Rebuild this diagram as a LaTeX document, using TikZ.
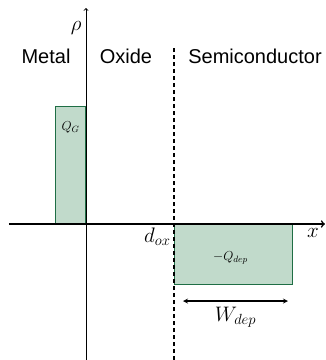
\RequirePackage{fix-cm}
\documentclass[tikz,border=0pt]{standalone}
\usepackage{fontspec}
\usepackage{tikz}
\usetikzlibrary{arrows,positioning,calc}
\newfontfamily\regionfont{Liberation Sans}
\definecolor{oxide_green}{HTML}{1F6E45}
\definecolor{charge_fill}{HTML}{C1DACB}
\tikzset{chargebox/.style={rectangle, inner sep=0pt, draw=oxide_green, fill=charge_fill, line width=1pt}}
\tikzset{chargelabel/.style={font=\fontsize{13}{15}\selectfont}}
\tikzset{axis/.style={->, >=to}}
\tikzset{region/.style={font=\regionfont\fontsize{20}{24}\selectfont}}
\tikzset{biglabel/.style={font=\fontsize{21}{25}\selectfont}}
\tikzset{dimarrow/.style={line width=1.2pt, <->, >=stealth}}

\begin{document}
\begin{tikzpicture}[x=1pt, y=1pt, node distance=4pt]
  \useasboundingbox (-86,-136) rectangle (240,224);

  \coordinate (origin) at (0,0);
  \coordinate (x-start) at (-77,0);
  \coordinate (x-end) at (239,0);
  \coordinate (rho-start) at (0,-136);
  \coordinate (rho-end) at (0,216);
  \coordinate (dox) at (88,0);
  \coordinate (dox-top) at (88,176);
  \coordinate (dox-bottom) at (88,-136);

  \node[chargebox, minimum width=30pt, minimum height=117pt, anchor=south east] (QG) at (origin) {};
  \node[chargelabel, below=12pt of QG.north] (QG-label) {$Q_G$};
  \node[chargebox, minimum width=118pt, minimum height=60pt, anchor=north west] (Qdep) at (dox) {};
  \node[chargelabel, xshift=-3pt, yshift=-3pt] (Qdep-label) at (Qdep.center) {$-Q_{dep}$};

  \draw[axis, line width=1.6pt] (x-start) -- (x-end);
  \draw[axis, line width=0.9pt] (rho-start) -- (rho-end);
  \draw[line width=1.6pt, dash pattern=on 4pt off 3pt] (dox-bottom) -- (dox-top);

  \node[biglabel, anchor=east] (rho) at (-1,196) {$\rho$};
  \node[biglabel, anchor=north] (x-label) at (227,-1) {$x$};
  \node[biglabel, anchor=north east] (dox-label) at (dox) {$d_{ox}$};

  \node[region] (metal) at (-40,168) {Metal};
  \node[region] (oxide) at (40,168) {Oxide};
  \node[region] (semi) at (169,168) {Semiconductor};

  \coordinate (W-left) at (97,-77);
  \coordinate (W-right) at (202,-77);
  \draw[dimarrow] (W-left) -- node[biglabel, below=2pt] (W-label) {$W_{dep}$} (W-right);
\end{tikzpicture}
\end{document}
